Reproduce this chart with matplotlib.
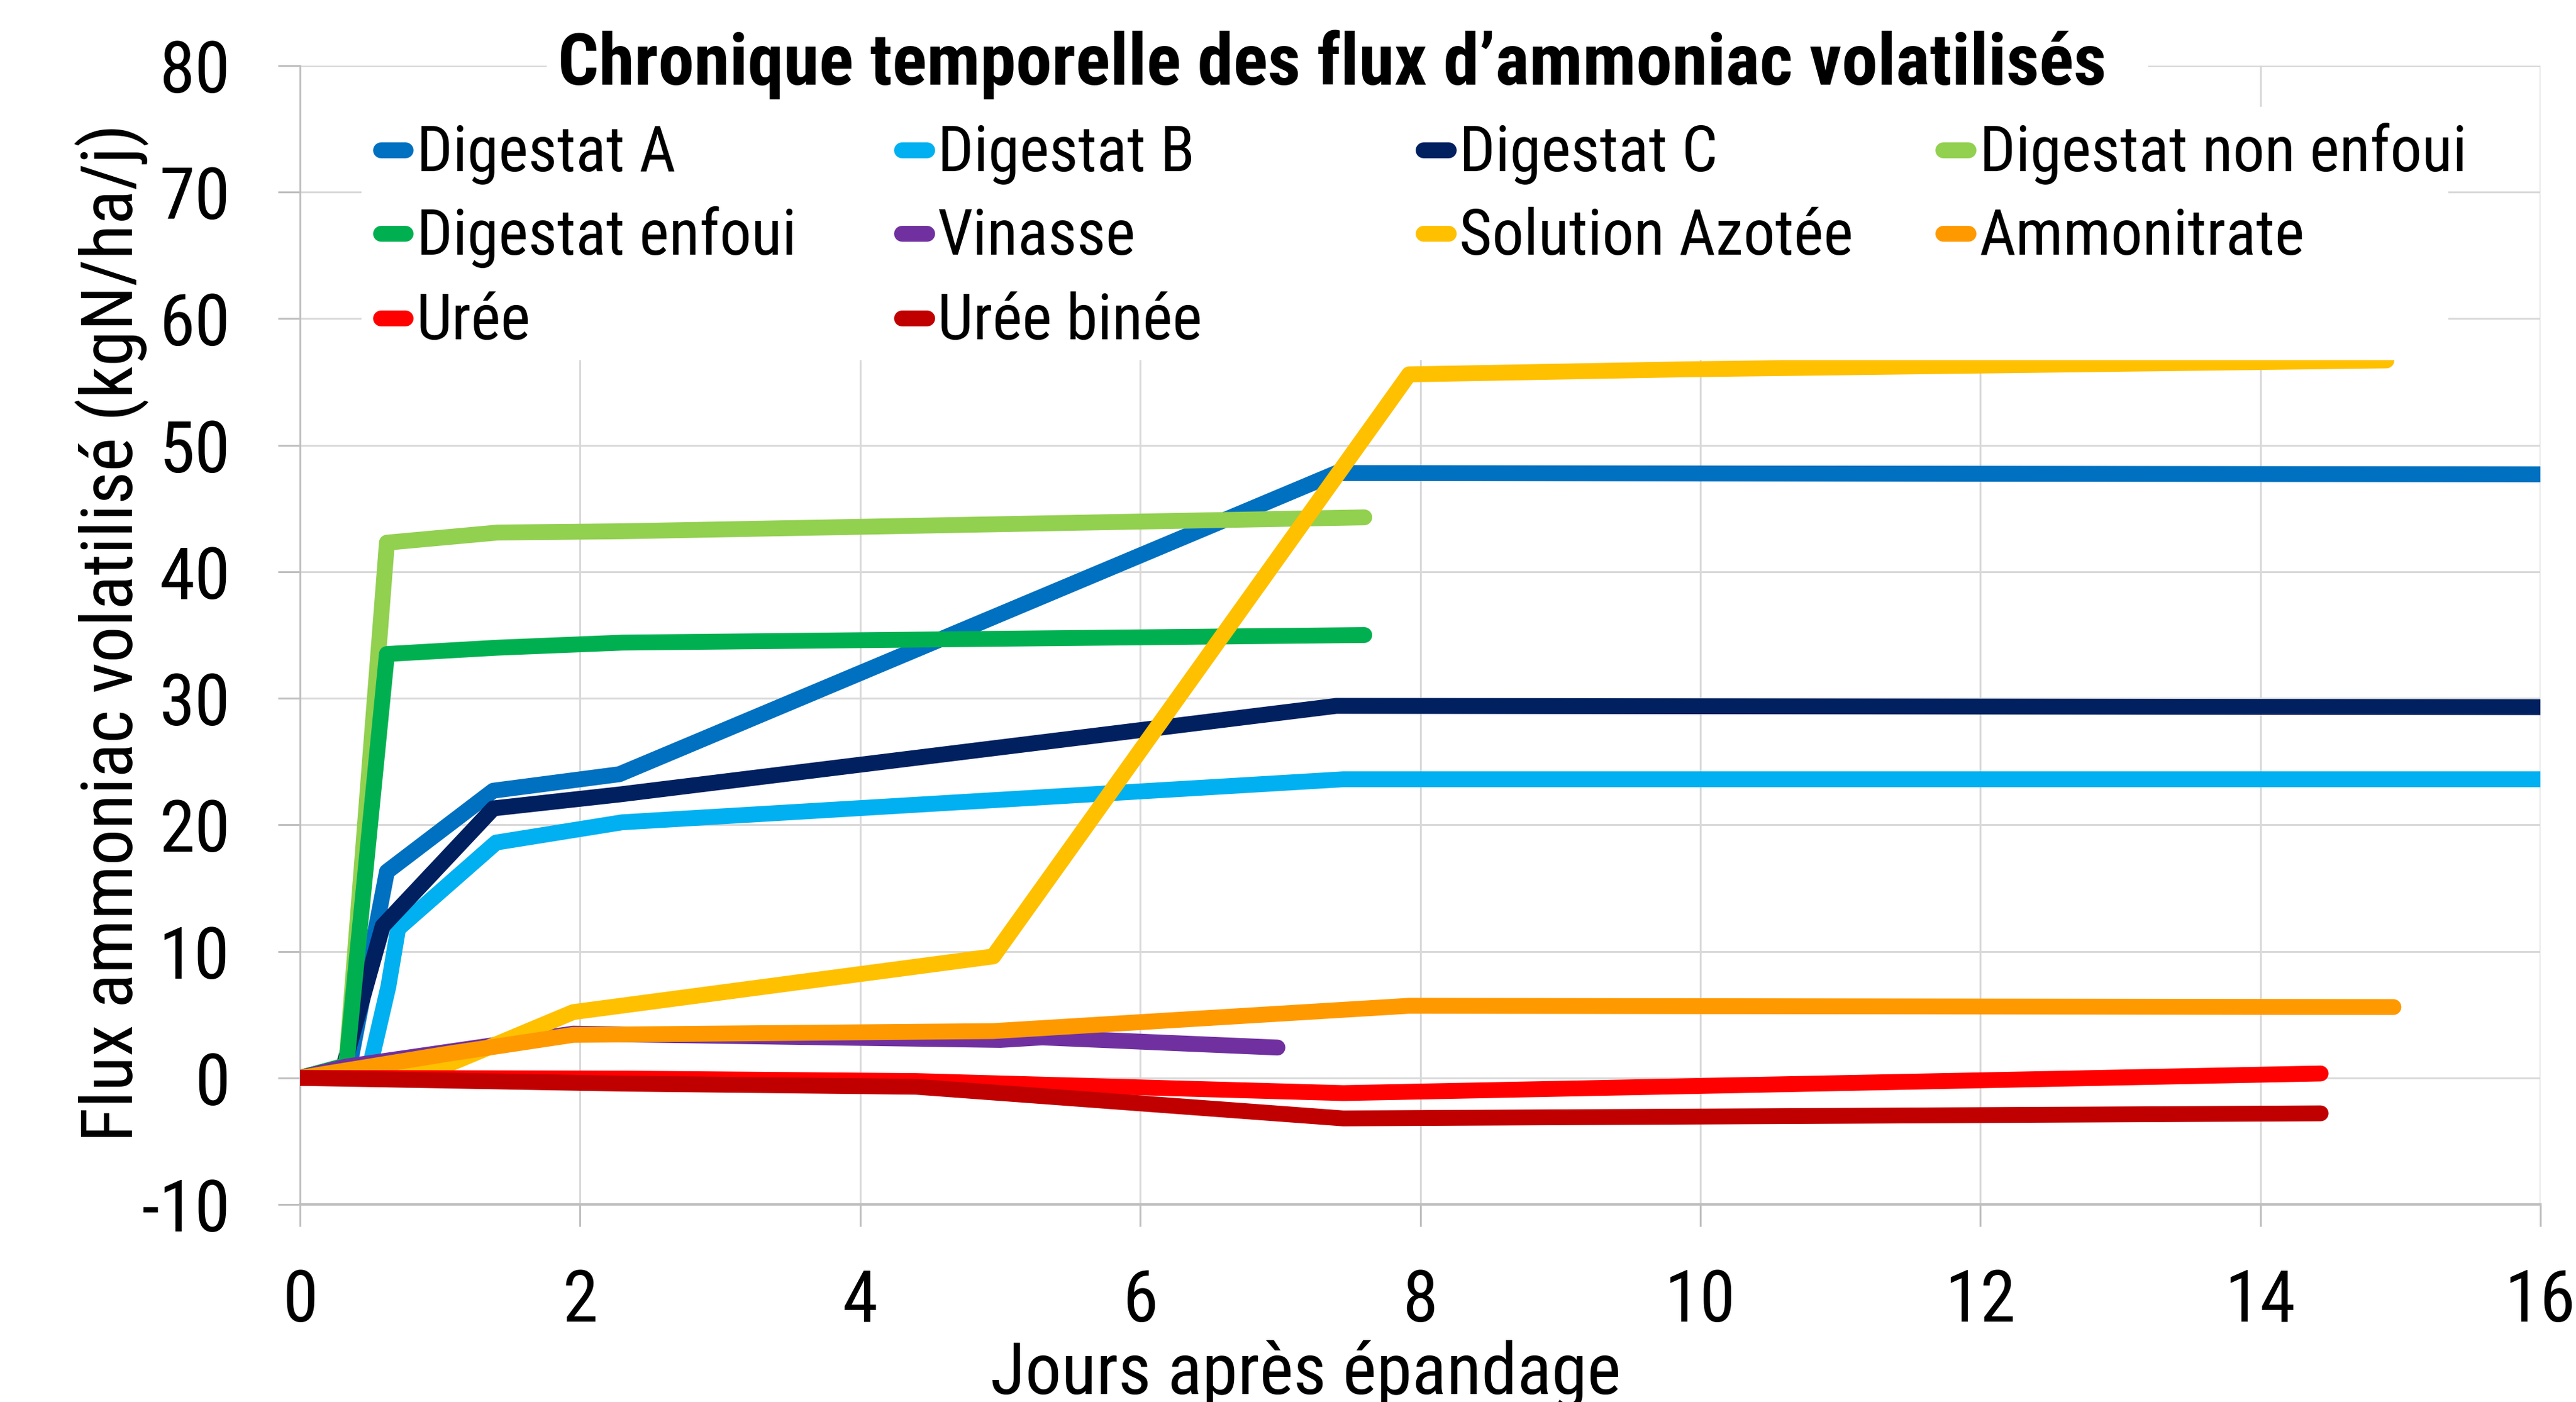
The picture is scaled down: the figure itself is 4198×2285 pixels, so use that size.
import os
import matplotlib
matplotlib.use('Agg')
import matplotlib.pyplot as plt
from matplotlib import font_manager
from matplotlib.font_manager import FontProperties
from matplotlib.patches import Rectangle

# data (days after spreading, kgN/ha/j)
labels=['Digestat A','Digestat B','Digestat C','Digestat non enfoui','Digestat enfoui',
        'Vinasse','Solution Azotée','Ammonitrate','Urée','Urée binée']
colors=['#0070C0','#00B0F0','#002060','#92D050','#00B050',
        '#7030A0','#FFC000','#FF9900','#FF0000','#C00000']

dig_a_x=[0,0.35,0.62,1.38,2.28,7.4,16.0]
dig_a_y=[0,0.8,16.3,22.7,24.0,47.8,47.7]
dig_b_x=[0,0.5,0.63,0.7,1.4,2.3,7.45,16.0]
dig_b_y=[0,1.0,7.2,11.8,18.6,20.2,23.6,23.6]
dig_c_x=[0,0.31,0.59,1.38,2.28,7.4,16.0]
dig_c_y=[0,0.9,12.0,21.3,22.4,29.4,29.3]
dig_ne_x=[0,0.33,0.62,1.41,2.3,7.6]
dig_ne_y=[0,1.0,42.3,43.1,43.2,44.3]
dig_e_x=[0,0.33,0.62,1.41,2.3,7.6]
dig_e_y=[0,1.0,33.5,34.0,34.4,35.0]
vinasse_x=[0,0.33,1.95,5.0,5.3,6.98]
vinasse_y=[0,0.9,3.5,3.0,3.2,2.4]
sol_az_x=[0,1.0,1.95,4.95,7.92,9.9,14.9]
sol_az_y=[0,0.8,5.2,9.6,55.6,56.0,56.7]
ammo_x=[0,1.05,1.95,4.95,7.92,14.95]
ammo_y=[0,1.9,3.4,3.7,5.7,5.6]
uree_x=[0,2.3,4.4,7.45,14.43]
uree_y=[0,-0.05,-0.25,-1.2,0.35]
uree_b_x=[0,2.3,4.4,7.45,14.43]
uree_b_y=[0,-0.45,-0.7,-3.2,-2.8]

xs=[dig_a_x,dig_b_x,dig_c_x,dig_ne_x,dig_e_x,vinasse_x,sol_az_x,ammo_x,uree_x,uree_b_x]
ys=[dig_a_y,dig_b_y,dig_c_y,dig_ne_y,dig_e_y,vinasse_y,sol_az_y,ammo_y,uree_y,uree_b_y]

x_ticks=list(range(0,17,2))
y_ticks=list(range(-10,81,10))

#Font: the chart uses Arial Narrow, take the closest narrow grotesque that has regular + bold files
ttf=font_manager.fontManager.ttflist
def wnum(w):
	return w if isinstance(w,int) else font_manager.weight_dict.get(w,400)
def static_file(name,weight):
	c=[f for f in ttf if f.name==name and f.style=='normal' and '[' not in os.path.basename(f.fname)
		and abs(wnum(f.weight)-weight)<=100]
	if not c:
		return None
	return min(c,key=lambda f:abs(wnum(f.weight)-weight)).fname
reg=bold=None
for name in ['Liberation Sans Narrow','Nimbus Sans Narrow','Arial Narrow','Roboto Condensed',
	'IBM Plex Sans Condensed','Fira Sans Condensed','Barlow Semi Condensed']:
	r=static_file(name,400)
	b=static_file(name,700)
	if r and b:
		reg,bold=r,b
		break
if reg:
	fp_reg=FontProperties(fname=reg)
	fp_bold=FontProperties(fname=bold)
	sf=0.96
else:
	fp_reg=FontProperties(family='Liberation Sans')
	fp_bold=FontProperties(family='Liberation Sans',weight='bold')
	sf=0.86

fs=44*sf
fs_leg=38.7*sf

fig=plt.figure(figsize=(4198/200,2285/200),dpi=200)
ax=fig.add_axes([0.1165,0.1409,0.8697,0.8123])

lw=9.3
for x,y,c in zip(xs,ys,colors):
	ax.plot(x,y,color=c,lw=lw,solid_capstyle='round',solid_joinstyle='round',zorder=3)

ax.set_xlim(0,16)
ax.set_ylim(-10,80)
ax.set_xticks(x_ticks)
ax.set_yticks(y_ticks)
ax.set_yticklabels([str(v) for v in y_ticks])  # plain hyphen like the reference
ax.grid(True,color='#D9D9D9',lw=1.1,zorder=0)
ax.set_axisbelow(True)
for s in ['top','right']:
	ax.spines[s].set_visible(False)
ax.spines['left'].set_color('#BFBFBF')
ax.spines['left'].set_linewidth(1.1)
ax.spines['bottom'].set_color('#BFBFBF')
ax.spines['bottom'].set_linewidth(1.4)
ax.tick_params(axis='both',colors='#BFBFBF',labelcolor='black',length=13,width=1.1)
ax.tick_params(axis='x',pad=24)
ax.tick_params(axis='y',pad=28)
for t in ax.get_xticklabels()+ax.get_yticklabels():
	t.set_fontproperties(fp_reg)
	t.set_fontsize(fs)

#axis titles
fig.text(0.0436,0.5488,'Flux ammoniac volatilisé (kgN/ha/j)',rotation=90,ha='center',va='center',
	fontproperties=fp_reg,fontsize=fs)
fig.text(0.5068,0.0057,'Jours après épandage',ha='center',va='baseline',fontproperties=fp_reg,fontsize=fs)

#title on white box over the top gridline
ax.add_patch(Rectangle((0.110,0.964),0.715,0.09,transform=ax.transAxes,facecolor='white',
	edgecolor='none',clip_on=False,zorder=4))
ax.text(0.4605,0.9833,'Chronique temporelle des flux d’ammoniac volatilisés',transform=ax.transAxes,
	ha='center',va='baseline',fontproperties=fp_bold,fontsize=fs,zorder=5)

#legend drawn by hand (Excel style equal columns)
ax.add_patch(Rectangle((0.0274,0.7414),0.9316,0.2226,transform=ax.transAxes,facecolor='white',
	edgecolor='none',clip_on=False,zorder=4))
col_x=[0.0312,0.2638,0.4966,0.7288]
row_y=[0.9256,0.8524,0.7780]
for i,(lab,c) in enumerate(zip(labels,colors)):
	cx=col_x[i%4]
	ry=row_y[i//4]
	ax.plot([cx+0.0048,cx+0.0160],[ry,ry],color=c,lw=lw,solid_capstyle='round',
		transform=ax.transAxes,clip_on=False,zorder=5)
	ax.text(cx+0.0208,ry-0.0182,lab,transform=ax.transAxes,ha='left',va='baseline',
		fontproperties=fp_reg,fontsize=fs_leg,zorder=6)

fig.savefig('out.png',dpi=200)
